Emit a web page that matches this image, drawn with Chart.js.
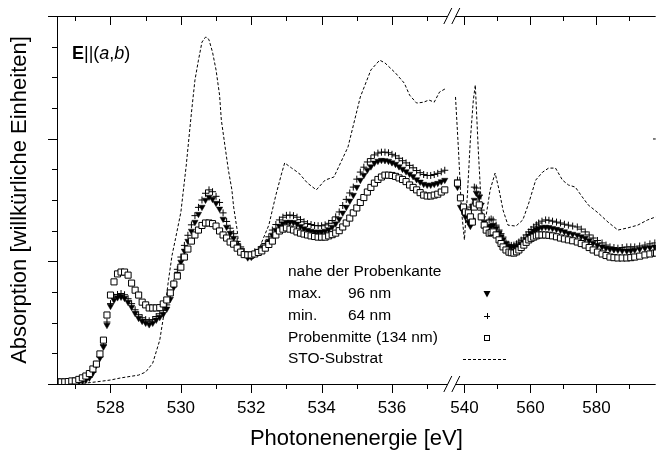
<!DOCTYPE html>
<html>
<head>
<meta charset="utf-8">
<script src="https://cdn.jsdelivr.net/npm/chart.js@4.4.1/dist/chart.umd.min.js"></script>
<style>
  body { margin: 0; background: #fff; }
</style>
</head>
<body>
<canvas id="xasChart" width="661" height="453"></canvas>
<script>
// ---- data (photon energy in eV, absorption in arbitrary units) ----
const energyLow = [526.5,526.6,526.7,526.8,526.9,527.0,527.1,527.2,527.3,527.4,
  527.5,527.6,527.7,527.8,527.9,528.0,528.1,528.2,528.3,528.4,
  528.5,528.6,528.7,528.8,528.9,529.0,529.1,529.2,529.3,529.4,
  529.5,529.6,529.7,529.8,529.9,530.0,530.1,530.2,530.3,530.4,
  530.5,530.6,530.7,530.8,530.9,531.0,531.1,531.2,531.3,531.4,
  531.5,531.6,531.7,531.8,531.9,532.0,532.1,532.2,532.3,532.4,
  532.5,532.6,532.7,532.8,532.9,533.0,533.1,533.2,533.3,533.4,
  533.5,533.6,533.7,533.8,533.9,534.0,534.1,534.2,534.3,534.4,
  534.5,534.6,534.7,534.8,534.9,535.0,535.1,535.2,535.3,535.4,
  535.5,535.6,535.7,535.8,535.9,536.0,536.1,536.2,536.3,536.4,
  536.5,536.6,536.7,536.8,536.9,537.0,537.1,537.2,537.3,537.4,537.5];

const maxLow = [0.03,0.03,0.03,0.05,0.07,0.07,0.08,0.10,0.13,0.20,
  0.36,0.62,0.85,1.21,1.92,2.54,2.74,2.82,2.84,2.80,
  2.67,2.51,2.31,2.15,2.05,1.99,1.94,1.99,2.09,2.18,
  2.28,2.45,2.77,3.16,3.59,3.98,4.34,4.66,4.99,5.28,
  5.54,5.77,6.00,6.10,6.03,5.90,5.71,5.38,5.12,4.92,
  4.76,4.53,4.37,4.24,4.12,4.14,4.24,4.30,4.39,4.47,
  4.66,4.86,5.02,5.15,5.23,5.28,5.28,5.27,5.22,5.14,
  5.07,5.02,4.99,4.96,4.96,4.96,4.99,5.04,5.12,5.23,
  5.38,5.58,5.77,5.97,6.16,6.42,6.65,6.81,6.98,7.09,
  7.21,7.27,7.30,7.29,7.27,7.22,7.17,7.09,7.01,6.93,
  6.85,6.77,6.67,6.59,6.52,6.49,6.49,6.52,6.55,6.60,6.65];

const minLow = [0.04,0.04,0.05,0.06,0.07,0.08,0.10,0.12,0.15,0.22,
  0.38,0.64,0.88,1.28,2.02,2.62,2.83,2.92,2.95,2.91,
  2.78,2.62,2.42,2.26,2.16,2.10,2.06,2.10,2.20,2.29,
  2.40,2.58,2.90,3.30,3.74,4.14,4.52,4.85,5.19,5.49,
  5.76,6.00,6.22,6.33,6.27,6.12,5.92,5.58,5.30,5.08,
  4.90,4.65,4.47,4.32,4.20,4.21,4.31,4.38,4.48,4.58,
  4.80,5.02,5.20,5.35,5.44,5.50,5.51,5.49,5.44,5.36,
  5.29,5.23,5.20,5.17,5.16,5.16,5.19,5.24,5.33,5.45,
  5.61,5.82,6.02,6.23,6.42,6.68,6.91,7.07,7.24,7.35,
  7.47,7.53,7.56,7.56,7.54,7.49,7.44,7.36,7.28,7.21,
  7.13,7.05,6.96,6.89,6.83,6.80,6.80,6.83,6.87,6.92,6.97];

const midLow = [0.07,0.07,0.07,0.08,0.10,0.10,0.15,0.20,0.26,0.34,
  0.49,0.65,0.98,1.43,2.25,2.90,3.33,3.59,3.65,3.65,
  3.55,3.29,3.06,2.90,2.67,2.58,2.48,2.48,2.48,2.49,
  2.61,2.74,2.97,3.26,3.52,3.81,4.14,4.40,4.66,4.86,
  5.02,5.17,5.25,5.25,5.23,5.15,4.99,4.86,4.76,4.63,
  4.56,4.43,4.30,4.22,4.21,4.21,4.24,4.29,4.34,4.43,
  4.55,4.66,4.86,4.99,5.05,5.09,5.05,5.02,4.96,4.92,
  4.89,4.86,4.83,4.81,4.79,4.79,4.79,4.83,4.87,4.92,
  5.00,5.12,5.25,5.41,5.58,5.74,5.92,6.08,6.26,6.41,
  6.55,6.67,6.75,6.81,6.81,6.80,6.77,6.72,6.67,6.60,
  6.49,6.41,6.33,6.24,6.16,6.13,6.13,6.16,6.19,6.26,6.33];

const energyHigh = [537.9,538.8,539.7,540.3,541.2,541.8,542.4,543.0,543.6,544.5,
  545.1,546.0,546.6,547.5,548.1,548.7,549.6,550.5,551.1,551.7,
  552.6,553.5,554.2,555.0,555.8,556.5,557.2,558.0,558.7,559.5,
  560.2,561.0,561.8,562.5,563.5,564.6,565.6,566.7,567.9,569.1,
  570.3,571.5,572.8,574.2,575.4,576.6,577.8,579.0,580.3,581.7,
  582.9,584.1,585.3,586.5,587.8,589.2,590.4,591.6,593.1,594.7,
  596.2,597.7,598.2];

const maxHigh = [6.42,5.77,5.61,5.45,5.28,5.15,5.35,6.00,6.23,6.10,
  5.84,5.28,5.12,5.12,5.16,5.18,5.08,4.92,4.80,4.70,
  4.60,4.50,4.48,4.47,4.48,4.50,4.56,4.63,4.72,4.83,
  4.91,4.99,5.04,5.08,5.11,5.12,5.11,5.08,5.05,5.02,
  4.97,4.92,4.89,4.86,4.81,4.76,4.68,4.60,4.53,4.47,
  4.43,4.40,4.38,4.37,4.35,4.34,4.35,4.37,4.40,4.43,
  4.45,4.47,4.47];

const minHigh = [6.65,6.07,5.67,5.58,5.51,5.77,5.84,6.42,6.39,6.16,
  5.67,5.12,5.09,5.35,5.38,5.35,5.18,5.02,4.90,4.79,
  4.60,4.53,4.52,4.53,4.57,4.63,4.69,4.76,4.86,4.96,
  5.04,5.12,5.19,5.25,5.31,5.35,5.34,5.31,5.28,5.25,
  5.21,5.18,5.15,5.12,5.05,4.96,4.86,4.76,4.68,4.60,
  4.53,4.47,4.45,4.43,4.45,4.47,4.47,4.47,4.50,4.53,
  4.57,4.60,7.99];

const midHigh = [6.55,6.07,5.77,5.61,5.58,5.45,5.28,5.77,5.90,5.84,
  5.45,5.18,5.02,4.92,4.94,4.96,4.86,4.70,4.58,4.47,
  4.37,4.30,4.28,4.27,4.31,4.37,4.45,4.53,4.62,4.70,
  4.75,4.79,4.83,4.86,4.86,4.86,4.85,4.83,4.80,4.76,
  4.73,4.70,4.67,4.63,4.58,4.53,4.45,4.37,4.30,4.24,
  4.19,4.14,4.12,4.11,4.11,4.11,4.12,4.14,4.17,4.21,
  4.24,4.27,4.27];

const stoEnergyLow = [526.5,527.3,527.6,528.0,528.3,528.8,529.0,529.2,529.4,529.55,
  529.65,529.75,529.85,530.0,530.15,530.3,530.4,530.5,530.6,530.7,
  530.75,530.8,530.9,531.0,531.1,531.15,531.25,531.35,531.45,531.5,
  531.6,531.65,531.8,531.9,532.05,532.15,532.3,532.5,532.7,532.85,
  532.95,533.15,533.35,533.6,533.85,534.1,534.35,534.75,535.1,535.4,
  535.65,535.8,536.1,536.35,536.5,536.7,536.9,537.05,537.2,537.35,537.55];
const stoLow = [0.03,0.03,0.07,0.13,0.20,0.29,0.39,0.68,1.43,2.51,
  3.40,4.20,4.75,5.60,7.10,8.84,9.91,10.56,11.15,11.31,
  11.30,11.22,10.82,10.24,9.42,8.61,7.79,6.98,6.33,5.77,
  5.02,4.47,4.21,4.08,4.08,4.21,4.63,5.18,6.16,6.81,
  7.21,7.04,6.88,6.55,6.33,6.65,6.75,7.73,9.36,10.24,
  10.56,10.47,10.14,9.81,9.42,9.16,9.19,9.26,9.19,9.52,9.65];

const stoEnergyHigh = [537.3,538.2,539.1,540.0,540.9,541.8,542.7,543.3,544.2,545.1,
  545.7,546.6,547.8,549.3,550.5,551.7,553.2,555.6,557.7,559.5,
  561.6,563.7,565.5,567.6,569.7,571.5,573.6,575.7,577.5,580.5,
  583.5,586.5,589.5,592.5,595.5,598.0];
const stoHigh = [9.36,7.63,5.67,4.70,6.16,7.96,9.26,9.75,7.63,5.84,
  5.35,5.51,6.33,6.88,6.33,5.67,5.18,5.15,5.35,5.90,
  6.65,6.91,7.04,7.04,6.65,6.49,6.42,6.10,5.84,5.58,
  5.28,5.02,5.09,5.18,5.35,5.45];

// axis ticks (eV)
const lowTicks = [527, 528, 529, 530, 531, 532, 533, 534, 535, 536, 537];
const highTicks = [540, 550, 560, 570, 580, 590];
const labelledTicks = [528, 530, 532, 534, 536, 540, 560, 580];

// legend texts
const legendHead = 'nahe der Probenkante';
const legendNames = ['max.', 'min.', 'Probenmitte (134 nm)', 'STO-Substrat'];
const legendThick = ['96 nm', '64 nm', '', ''];

// ---- broken x axis: high-energy part squeezed behind the break ----
const FONT = '"Liberation Sans", Arial, Helvetica, sans-serif';
const HIGH_START = 538.058;   // axis position of 540 eV
const HIGH_SCALE = 0.0938;    // compression of the high-energy part
const BREAK_AT = 537.7;
const lowX = e => e;
const highX = e => HIGH_START + (e - 540) * HIGH_SCALE;
const tickEnergies = lowTicks.concat(highTicks);

function joinParts(eLow, yLow, eHigh, yHigh) {
  const a = eLow.map((e, i) => ({x: lowX(e), y: yLow[i]}));
  const b = eHigh.map((e, i) => ({x: highX(e), y: yHigh[i]}));
  return a.concat([{x: BREAK_AT, y: null}], b);
}

const framePlugin = {
  id: 'frame',
  afterDraw(chart) {
    const {ctx, chartArea: a, scales: {x, y}} = chart;
    const bx = x.getPixelForValue(BREAK_AT);
    ctx.save();
    ctx.strokeStyle = '#000';
    ctx.lineWidth = 1;
    ctx.beginPath();
    ctx.moveTo(a.left + 0.5, a.top);
    ctx.lineTo(a.left + 0.5, a.bottom + 1);
    [a.top + 0.5, a.bottom + 0.5].forEach(yy => {
      ctx.moveTo(a.left, yy); ctx.lineTo(bx - 4, yy);
      ctx.moveTo(bx + 4, yy); ctx.lineTo(a.right, yy);
    });
    x.ticks.forEach(t => {
      const px = Math.round(x.getPixelForValue(t.value)) + 0.5;
      const len = t.label ? 9 : 5;
      ctx.moveTo(px, a.bottom); ctx.lineTo(px, a.bottom + len);
      ctx.moveTo(px, a.top); ctx.lineTo(px, a.top + len);
    });
    for (let v = 0; v <= 12; v++) {
      const py = Math.round(y.getPixelForValue(v)) + 0.5;
      const len = v % 4 ? 5 : 9;
      ctx.moveTo(a.left - len, py); ctx.lineTo(a.left, py);
    }
    ctx.stroke();
    // the // break marks
    ctx.beginPath();
    [a.top, a.bottom].forEach(yy => {
      [-4, 4].forEach(dx => {
        ctx.moveTo(bx + dx - 4, yy + 8);
        ctx.lineTo(bx + dx + 4, yy - 8);
      });
    });
    ctx.stroke();
    ctx.restore();
  }
};

const notesPlugin = {
  id: 'notes',
  afterDraw(chart) {
    const ctx = chart.ctx;
    ctx.save();
    ctx.fillStyle = '#000';
    ctx.strokeStyle = '#000';
    ctx.textBaseline = 'alphabetic';

    // E||(a,b)
    const parts = [['bold', 'E'], ['normal', '||('], ['italic', 'a'], ['normal', ','], ['italic', 'b'], ['normal', ')']];
    let tx = 72;
    parts.forEach(([st, s]) => {
      ctx.font = (st === 'bold' ? 'bold ' : st === 'italic' ? 'italic ' : '') + '18px ' + FONT;
      ctx.fillText(s, tx, 59);
      tx += ctx.measureText(s).width;
    });

    // legend
    ctx.font = '15.5px ' + FONT;
    ctx.textBaseline = 'middle';
    const rowY = [272, 294, 316, 338, 359];
    ctx.fillText(legendHead, 288, rowY[0]);
    legendNames.forEach((n, i) => {
      ctx.fillText(n, 288, rowY[i + 1]);
      if (legendThick[i]) ctx.fillText(legendThick[i], 348, rowY[i + 1]);
    });
    const mx = 487;
    ctx.lineWidth = 1;
    // triangle
    let yy = rowY[1];
    ctx.beginPath();
    ctx.moveTo(mx - 3.5, yy - 3); ctx.lineTo(mx + 3.5, yy - 3); ctx.lineTo(mx, yy + 3.5);
    ctx.closePath(); ctx.fill();
    // plus
    yy = rowY[2];
    ctx.beginPath();
    ctx.moveTo(mx - 3, yy + 0.5); ctx.lineTo(mx + 3, yy + 0.5);
    ctx.moveTo(mx + 0.5, yy - 3); ctx.lineTo(mx + 0.5, yy + 3);
    ctx.stroke();
    // square
    yy = rowY[3];
    ctx.strokeRect(mx - 2.5, yy - 2.5, 5, 5);
    // dashed line
    yy = Math.round(rowY[4]) + 0.5;
    ctx.setLineDash([3, 2]);
    ctx.beginPath();
    ctx.moveTo(463, yy); ctx.lineTo(508, yy);
    ctx.stroke();
    ctx.restore();
  }
};

new Chart(document.getElementById('xasChart').getContext('2d'), {
  type: 'scatter',
  data: {
    datasets: [{
      label: 'Probenmitte (134 nm)',
      data: joinParts(energyLow, midLow, energyHigh, midHigh),
      showLine: false,
      pointStyle: 'rect',
      pointRadius: 4.3,
      pointBackgroundColor: '#fff',
      pointBorderColor: '#000',
      pointBorderWidth: 1
    }, {
      label: 'max. 96 nm',
      data: joinParts(energyLow, maxLow, energyHigh, maxHigh),
      showLine: false,
      pointStyle: 'triangle',
      pointRotation: 180,
      pointRadius: 3.6,
      pointBackgroundColor: '#000',
      pointBorderColor: '#000',
      pointBorderWidth: 0.5
    }, {
      label: 'min. 64 nm',
      data: joinParts(energyLow, minLow, energyHigh, minHigh),
      showLine: false,
      pointStyle: 'cross',
      pointRadius: 3.5,
      pointBorderColor: '#000',
      pointBorderWidth: 1
    }, {
      label: 'STO-Substrat',
      data: joinParts(stoEnergyLow, stoLow, stoEnergyHigh, stoHigh),
      showLine: true,
      spanGaps: false,
      pointRadius: 0,
      borderColor: '#000',
      borderWidth: 1,
      borderDash: [3, 2],
      tension: 0
    }]
  },
  options: {
    responsive: false,
    animation: false,
    devicePixelRatio: 1,
    layout: { padding: { top: 16, right: 0, left: 0, bottom: 0 } },
    scales: {
      x: {
        type: 'linear',
        min: 526.48,
        max: 543.494,
        afterBuildTicks: s => {
          s.ticks = tickEnergies.map((e, i) => ({ value: i < lowTicks.length ? lowX(e) : highX(e) }));
        },
        afterFit: s => { s.height = 69; },
        grid: { display: false, drawTicks: false },
        border: { display: false },
        ticks: {
          autoSkip: false,
          maxRotation: 0,
          padding: 14,
          color: '#000',
          font: { family: FONT, size: 17 },
          callback: (v, i) => labelledTicks.includes(tickEnergies[i]) ? String(tickEnergies[i]) : ''
        },
        title: {
          display: true,
          text: 'Photonenenergie [eV]',
          color: '#000',
          font: { family: FONT, size: 22 },
          padding: { top: 0, bottom: 1 }
        }
      },
      y: {
        min: 0,
        max: 12,
        afterFit: s => { s.width = 57; },
        grid: { display: false },
        border: { display: false },
        ticks: { display: false },
        title: {
          display: true,
          text: 'Absorption [willkürliche Einheiten]',
          color: '#000',
          font: { family: FONT, size: 22 },
          padding: { top: 7 }
        }
      }
    },
    plugins: {
      legend: { display: false },
      tooltip: { enabled: false }
    }
  },
  plugins: [framePlugin, notesPlugin]
});
</script>
</body>
</html>
